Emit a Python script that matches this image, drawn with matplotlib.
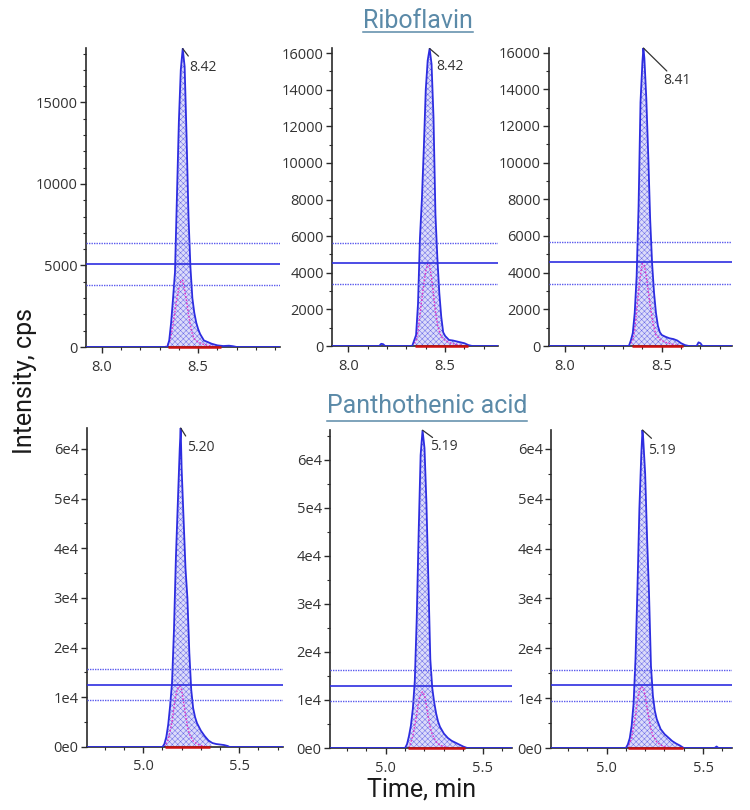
import numpy as np
import matplotlib
matplotlib.use("Agg")
import matplotlib.pyplot as plt
from matplotlib.ticker import MultipleLocator, FuncFormatter
from matplotlib.lines import Line2D

# ---------------- data ----------------
rib1_t = [7.90, 8.34, 8.35, 8.36, 8.37, 8.38, 8.39, 8.40, 8.41, 8.42, 8.43, 8.44, 8.45, 8.46, 8.47,
          8.48, 8.49, 8.50, 8.51, 8.53, 8.55, 8.57, 8.60, 8.63, 8.66, 8.68, 8.70, 9.00]
rib1_i = [0, 0, 400, 1500, 3000, 4600, 9200, 13800, 17000, 18300, 17200, 12900, 8000, 4900, 3000,
          2100, 1500, 1100, 800, 400, 300, 200, 100, 60, 80, 50, 0, 0]
rib1_q_t = [8.33, 8.35, 8.36, 8.37, 8.38, 8.39, 8.40, 8.41, 8.42, 8.43, 8.44, 8.45, 8.46, 8.47, 8.48,
            8.50, 8.53, 8.56, 8.60]
rib1_q_i = [0, 250, 700, 1400, 2200, 3000, 3600, 4000, 4100, 3500, 2800, 2000, 1300, 800, 500,
            300, 150, 80, 0]

rib2_t = [7.90, 8.16, 8.17, 8.18, 8.19, 8.33, 8.34, 8.35, 8.36, 8.37, 8.38, 8.39, 8.40, 8.41, 8.42,
          8.43, 8.44, 8.45, 8.46, 8.47, 8.48, 8.49, 8.50, 8.52, 8.54, 8.56, 8.58, 8.60, 8.62, 8.64, 9.00]
rib2_i = [0, 0, 120, 100, 0, 0, 300, 600, 2300, 5900, 8000, 10800, 14000, 15600, 16250,
          15400, 12500, 7200, 4800, 2900, 1600, 750, 550, 330, 300, 250, 200, 150, 50, 0, 0]
rib2_q_t = [8.33, 8.35, 8.36, 8.37, 8.38, 8.39, 8.40, 8.41, 8.42, 8.43, 8.44, 8.45, 8.46, 8.47, 8.48,
            8.50, 8.53, 8.56, 8.60]
rib2_q_i = [0, 300, 800, 1700, 2600, 3400, 4100, 4500, 4400, 3700, 2800, 1900, 1200, 800, 500,
            300, 150, 80, 0]

rib3_t = [7.90, 8.33, 8.34, 8.35, 8.36, 8.37, 8.38, 8.39, 8.40, 8.405, 8.41, 8.42, 8.43, 8.44, 8.45,
          8.46, 8.47, 8.48, 8.49, 8.50, 8.52, 8.54, 8.56, 8.58, 8.60, 8.62, 8.64, 8.68, 8.69, 8.70,
          8.71, 9.00]
rib3_i = [0, 0, 300, 700, 1800, 3800, 7600, 13300, 15500, 16250, 15700, 13500, 10400, 6900, 4500,
          2900, 1800, 1100, 750, 600, 500, 420, 380, 300, 150, 50, 0, 0, 200, 150,
          0, 0]
rib3_q_t = [8.33, 8.35, 8.36, 8.37, 8.38, 8.39, 8.40, 8.41, 8.42, 8.43, 8.44, 8.45, 8.46, 8.47, 8.49,
            8.52, 8.55, 8.60]
rib3_q_i = [0, 300, 900, 1900, 3000, 3900, 4500, 4400, 3800, 3000, 2200, 1500, 1000, 600, 350,
            200, 100, 0]

pan1_t = [4.60, 5.10, 5.11, 5.12, 5.13, 5.14, 5.15, 5.16, 5.17, 5.18, 5.19, 5.195, 5.20, 5.21, 5.22,
          5.23, 5.24, 5.25, 5.26, 5.27, 5.28, 5.30, 5.32, 5.34, 5.36, 5.38, 5.40, 5.42, 5.44, 5.45, 5.80]
pan1_i = [0, 0, 600, 2000, 4500, 8300, 13000, 23500, 38000, 49000, 60000, 64200, 56000, 46000, 36000,
          30000, 19000, 11500, 7800, 6000, 4800, 3300, 2200, 1300, 800, 600, 500, 400, 200, 0, 0]
pan1_q_t = [5.11, 5.13, 5.15, 5.16, 5.17, 5.18, 5.19, 5.20, 5.21, 5.22, 5.23, 5.24, 5.26, 5.28, 5.30, 5.33]
pan1_q_i = [0, 1500, 5000, 8000, 10500, 11800, 12300, 11500, 9000, 6500, 4200, 2600, 1200, 600, 300, 0]

pan2_t = [4.60, 5.10, 5.11, 5.12, 5.13, 5.14, 5.15, 5.16, 5.17, 5.18, 5.19, 5.20, 5.21, 5.22, 5.23,
          5.24, 5.25, 5.26, 5.27, 5.28, 5.30, 5.32, 5.34, 5.36, 5.38, 5.40, 5.42, 5.80]
pan2_i = [0, 0, 800, 2500, 4700, 8200, 14000, 27000, 45000, 61000, 66200, 62500, 51000, 35000, 18500,
          12500, 9500, 7200, 5500, 4400, 3000, 2100, 1500, 1100, 700, 300, 0, 0]
pan2_q_t = [5.12, 5.14, 5.16, 5.17, 5.18, 5.19, 5.20, 5.21, 5.22, 5.23, 5.24, 5.26, 5.28, 5.30, 5.33]
pan2_q_i = [0, 2500, 7000, 9800, 11200, 11700, 11000, 8800, 6300, 4200, 2800, 1300, 600, 300, 0]

pan3_t = [4.60, 5.10, 5.11, 5.12, 5.13, 5.14, 5.15, 5.16, 5.17, 5.18, 5.186, 5.19, 5.20, 5.21, 5.22,
          5.23, 5.24, 5.25, 5.26, 5.28, 5.30, 5.32, 5.34, 5.36, 5.38, 5.40, 5.56, 5.57, 5.58, 5.80]
pan3_i = [0, 0, 700, 1950, 4500, 9000, 18000, 32000, 48000, 59000, 63800, 62000, 55000, 42000, 31000,
          16500, 10500, 7500, 5800, 3800, 2800, 2100, 1400, 900, 500, 0, 0, 300, 0, 0]
pan3_q_t = [5.11, 5.13, 5.15, 5.16, 5.17, 5.18, 5.19, 5.20, 5.21, 5.22, 5.23, 5.24, 5.26, 5.28, 5.30, 5.33]
pan3_q_i = [0, 2000, 6500, 9500, 11500, 12300, 12000, 10500, 8000, 5800, 3800, 2500, 1200, 600, 300, 0]

# horizontal reference lines (upper dotted, solid, lower dotted)
hlines = [[6380, 5090, 3800], [5630, 4530, 3390], [5670, 4560, 3400],
          [15700, 12500, 9500], [16200, 12900, 9800], [15700, 12700, 9500]]
# integration windows (red baseline)
windows = [[8.345, 8.62], [8.344, 8.62], [8.345, 8.61],
           [5.115, 5.35], [5.117, 5.409], [5.112, 5.396]]
peak_rt = ["8.42", "8.42", "8.41", "5.20", "5.19", "5.19"]
titles = ["Riboflavin", "Panthothenic acid"]

traces = [(rib1_t, rib1_i, rib1_q_t, rib1_q_i), (rib2_t, rib2_i, rib2_q_t, rib2_q_i),
          (rib3_t, rib3_i, rib3_q_t, rib3_q_i), (pan1_t, pan1_i, pan1_q_t, pan1_q_i),
          (pan2_t, pan2_i, pan2_q_t, pan2_q_i), (pan3_t, pan3_i, pan3_q_t, pan3_q_i)]

# ---------------- layout ----------------
W, H = 750, 810
boxes = [(86, 280, 48, 347), (332, 498, 48, 346), (549, 732, 48, 346),
         (87, 283, 428, 747), (330, 512, 430, 748), (551, 732, 430, 748)]
xlims = [(7.919, 8.924), (7.916, 8.773), (7.917, 8.863),
         (4.707, 5.728), (4.713, 5.651), (4.712, 5.650)]
ytops = [18340, 16280, 16250, 64200, 66240, 63800]
ymaj = [5000, 2000, 2000, 10000, 10000, 10000]
ymin = [1000, 1000, 1000, 5000, 5000, 5000]
# label offsets in pixels: (leader dx, leader dy, text dx, text dy)
offs = [(5.6, -7.4, 6.3, -19), (9, -7.7, 6.7, -18.4), (23.4, -23, 19.4, -32.3),
        (5, -8, 6.7, -19.3), (10, -7.3, 7.6, -16.7), (9, -8.3, 5.6, -20)]

BLUE = "#2d2de0"
HATCH = "#6a6ae8"
MAG = "#e030c8"
RED = "#cc1010"
AX = "#2a2a2a"
TXT = "#333333"
TITLE_C = "#5b8aa8"

plt.rcParams["hatch.linewidth"] = 0.35

fig = plt.figure(figsize=(W / 100, H / 100), dpi=100)
fig.patch.set_facecolor("white")

def fmt_top(v, pos):
    return f"{int(round(v))}"

def fmt_bot(v, pos):
    if abs(v) < 1:
        return "0e0"
    return f"{int(round(v / 1e4))}e4"

for k in range(6):
    l, r, t, b = boxes[k]
    ax = fig.add_axes([l / W, 1 - b / H, (r - l) / W, (b - t) / H])
    ax.set_facecolor("white")
    tt, ii, qt, qi = traces[k]
    tt = np.array(tt, float)
    ii = np.array(ii, float)
    w0, w1 = windows[k]
    mask = (tt >= w0 - 1e-9) & (tt <= w1 + 1e-9)
    ax.fill_between(tt, 0, ii, where=mask, interpolate=True, facecolor="#dcdcf9",
                    edgecolor=HATCH, hatch="xxxxxx", linewidth=0, zorder=1)
    ax.plot(qt, qi, color=MAG, lw=1.0, ls=(0, (1.2, 1.2)), zorder=2)
    ax.plot(tt, ii, color=BLUE, lw=1.3, zorder=3)
    up, mid, lo = hlines[k]
    ax.axhline(up, color="#5a5aee", lw=1.0, ls=(0, (1, 0.8)), zorder=4)
    ax.axhline(mid, color=BLUE, lw=1.2, zorder=4)
    ax.axhline(lo, color="#5a5aee", lw=1.0, ls=(0, (1, 0.8)), zorder=4)
    ax.plot([w0, w1], [0, 0], color=RED, lw=1.8, zorder=5, solid_capstyle="butt",
            clip_on=False)

    ax.set_xlim(*xlims[k])
    ax.set_ylim(0, ytops[k])

    # apex annotation
    j = int(np.argmax(ii))
    apex = (tt[j], ii[j])
    ldx, ldy, tdx, tdy = offs[k]
    ax.annotate("", xy=apex, xytext=(ldx, ldy), textcoords="offset pixels",
                arrowprops=dict(arrowstyle="-", color="#333333", lw=0.9,
                                shrinkA=0, shrinkB=0), annotation_clip=False, zorder=6)
    ax.annotate(peak_rt[k], xy=apex, xytext=(tdx, tdy), textcoords="offset pixels",
                ha="left", va="center", fontsize=10, color=TXT, family="Open Sans",
                annotation_clip=False, zorder=6)

    for s in ["top", "right"]:
        ax.spines[s].set_visible(False)
    for s in ["left", "bottom"]:
        ax.spines[s].set_color(AX)
        ax.spines[s].set_linewidth(1.2)
    ax.xaxis.set_major_locator(MultipleLocator(0.5))
    ax.xaxis.set_minor_locator(MultipleLocator(0.1))
    ax.yaxis.set_major_locator(MultipleLocator(ymaj[k]))
    ax.yaxis.set_minor_locator(MultipleLocator(ymin[k]))
    ax.xaxis.set_major_formatter(FuncFormatter(lambda v, p: f"{v:.1f}"))
    ax.yaxis.set_major_formatter(FuncFormatter(fmt_top if k < 3 else fmt_bot))
    ax.tick_params(axis="both", which="major", length=4, width=1, color=AX,
                   labelsize=10.5, labelcolor=TXT)
    ax.tick_params(axis="both", which="minor", length=2.5, width=0.8, color=AX)
    ax.tick_params(axis="y", which="major", pad=2)
    ax.tick_params(axis="x", which="major", pad=5)
    for lab in ax.get_xticklabels() + ax.get_yticklabels():
        lab.set_family("Open Sans")

# titles with underline
t1 = fig.text(418 / W, 1 - 28 / H, titles[0], ha="center", va="baseline",
              fontsize=18, family="Roboto", color=TITLE_C)
t2 = fig.text(427 / W, 1 - 413 / H, titles[1], ha="center", va="baseline",
              fontsize=18, family="Roboto", color=TITLE_C)
fig.text(25 / W, 1 - 381 / H, "Intensity, cps", rotation=90, ha="center", va="center",
         fontsize=18, family="Roboto", color="#1a1a1a")
fig.text(422 / W, 1 - 796 / H, "Time, min", ha="center", va="baseline",
         fontsize=18, family="Roboto", color="#1a1a1a")

fig.canvas.draw()
rend = fig.canvas.get_renderer()
for txt, uy in [(t1, 32), (t2, 421)]:
    bb = txt.get_window_extent(rend).transformed(fig.transFigure.inverted())
    fig.add_artist(Line2D([bb.x0, bb.x1], [1 - uy / H, 1 - uy / H],
                          transform=fig.transFigure, color=TITLE_C, lw=1.1))

fig.savefig("out.png", dpi=100, facecolor="white")
